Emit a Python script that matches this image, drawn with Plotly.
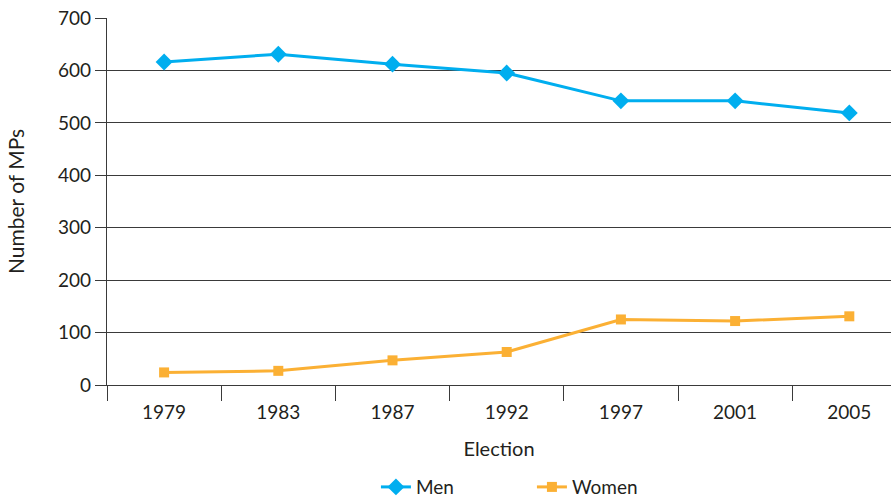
import plotly.graph_objects as go

# Election years and number of MPs by sex
elections = ["1979", "1983", "1987", "1992", "1997", "2001", "2005"]
men = [616, 631, 612, 595, 542, 542, 519]
women = [24, 27, 47, 63, 125, 122, 131]

FONT = "Lato, 'Open Sans', sans-serif"
TEXT = "#231f20"
AXIS = "#3a3a3a"

fig = go.Figure()
fig.add_trace(go.Scatter(
    x=elections, y=men, name="Men", mode="lines+markers",
    line=dict(color="#00aeef", width=3),
    marker=dict(symbol="diamond", size=13, color="#00aeef"),
))
fig.add_trace(go.Scatter(
    x=elections, y=women, name="Women", mode="lines+markers",
    line=dict(color="#fbb034", width=3),
    marker=dict(symbol="square", size=10, color="#fbb034"),
))

fig.update_layout(
    width=891, height=497,
    margin=dict(l=107, r=0, t=18, b=112),
    paper_bgcolor="white", plot_bgcolor="white",
    font=dict(family=FONT, size=18, color=TEXT),
    showlegend=True,
    legend=dict(
        orientation="h", xref="paper", x=0.542, xanchor="center",
        yref="container", y=0.02, yanchor="middle",
        font=dict(size=19, color=TEXT), entrywidth=111, entrywidthmode="pixels",
    ),
)

fig.update_xaxes(
    type="category", range=[-0.5, 6.365], automargin=False,
    tickson="boundaries", ticks="outside", ticklen=15, tickwidth=1.3, tickcolor=AXIS,
    ticklabelstandoff=10,
    showline=True, linecolor=AXIS, linewidth=1.3,
    showgrid=False, zeroline=False,
    tickfont=dict(size=19, color=TEXT),
    title=dict(text="Election", font=dict(size=20, color=TEXT), standoff=20),
)
fig.update_yaxes(
    range=[0, 700], tickvals=[0, 100, 200, 300, 400, 500, 600, 700], automargin=False,
    ticks="outside", ticklen=11, tickwidth=1.3, tickcolor=AXIS,
    showline=True, linecolor=AXIS, linewidth=1.3,
    showgrid=True, gridcolor=AXIS, gridwidth=1.3, zeroline=False,
    tickfont=dict(size=19, color=TEXT),
    title=dict(text="Number of MPs", font=dict(size=21, color=TEXT), standoff=27),
)

fig.write_html("out.html")
